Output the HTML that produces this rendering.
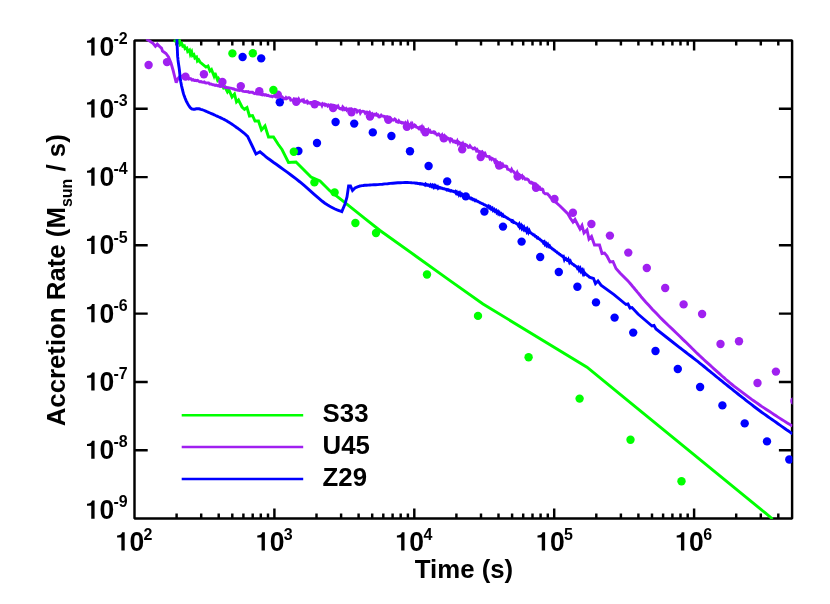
<!DOCTYPE html>
<html><head><meta charset="utf-8"><title>Accretion Rate</title>
<style>
html,body{margin:0;padding:0;background:#fff;}
body{width:830px;height:604px;overflow:hidden;}
svg{display:block;}
text{font-family:"Liberation Sans",sans-serif;font-weight:bold;fill:#000;}
</style></head><body>
<svg style="will-change:transform" width="830" height="604" viewBox="0 0 830 604">
<rect width="830" height="604" fill="#fff"/>
<defs><clipPath id="pc"><rect x="134.5" y="39.2" width="657.9" height="479.9"/></clipPath></defs>
<g stroke="#000" stroke-width="2.45" fill="none" stroke-linecap="butt" stroke-linejoin="bevel">
<rect x="134.5" y="40.5" width="657.6" height="478.0"/>
<path d="M176.6 518.5 L176.6 513.5 M176.6 40.5 L176.6 45.5 M201.2 518.5 L201.2 513.5 M201.2 40.5 L201.2 45.5 M218.7 518.5 L218.7 513.5 M218.7 40.5 L218.7 45.5 M232.3 518.5 L232.3 513.5 M232.3 40.5 L232.3 45.5 M243.4 518.5 L243.4 513.5 M243.4 40.5 L243.4 45.5 M252.7 518.5 L252.7 513.5 M252.7 40.5 L252.7 45.5 M260.8 518.5 L260.8 513.5 M260.8 40.5 L260.8 45.5 M268.0 518.5 L268.0 513.5 M268.0 40.5 L268.0 45.5 M274.4 518.5 L274.4 508.6 M274.4 40.5 L274.4 50.4 M316.5 518.5 L316.5 513.5 M316.5 40.5 L316.5 45.5 M341.1 518.5 L341.1 513.5 M341.1 40.5 L341.1 45.5 M358.6 518.5 L358.6 513.5 M358.6 40.5 L358.6 45.5 M372.2 518.5 L372.2 513.5 M372.2 40.5 L372.2 45.5 M383.3 518.5 L383.3 513.5 M383.3 40.5 L383.3 45.5 M392.6 518.5 L392.6 513.5 M392.6 40.5 L392.6 45.5 M400.7 518.5 L400.7 513.5 M400.7 40.5 L400.7 45.5 M407.9 518.5 L407.9 513.5 M407.9 40.5 L407.9 45.5 M414.3 518.5 L414.3 508.6 M414.3 40.5 L414.3 50.4 M456.4 518.5 L456.4 513.5 M456.4 40.5 L456.4 45.5 M481.0 518.5 L481.0 513.5 M481.0 40.5 L481.0 45.5 M498.5 518.5 L498.5 513.5 M498.5 40.5 L498.5 45.5 M512.1 518.5 L512.1 513.5 M512.1 40.5 L512.1 45.5 M523.2 518.5 L523.2 513.5 M523.2 40.5 L523.2 45.5 M532.5 518.5 L532.5 513.5 M532.5 40.5 L532.5 45.5 M540.6 518.5 L540.6 513.5 M540.6 40.5 L540.6 45.5 M547.8 518.5 L547.8 513.5 M547.8 40.5 L547.8 45.5 M554.2 518.5 L554.2 508.6 M554.2 40.5 L554.2 50.4 M596.3 518.5 L596.3 513.5 M596.3 40.5 L596.3 45.5 M620.9 518.5 L620.9 513.5 M620.9 40.5 L620.9 45.5 M638.4 518.5 L638.4 513.5 M638.4 40.5 L638.4 45.5 M652.0 518.5 L652.0 513.5 M652.0 40.5 L652.0 45.5 M663.1 518.5 L663.1 513.5 M663.1 40.5 L663.1 45.5 M672.4 518.5 L672.4 513.5 M672.4 40.5 L672.4 45.5 M680.5 518.5 L680.5 513.5 M680.5 40.5 L680.5 45.5 M687.7 518.5 L687.7 513.5 M687.7 40.5 L687.7 45.5 M694.1 518.5 L694.1 508.6 M694.1 40.5 L694.1 50.4 M736.2 518.5 L736.2 513.5 M736.2 40.5 L736.2 45.5 M760.8 518.5 L760.8 513.5 M760.8 40.5 L760.8 45.5 M778.3 518.5 L778.3 513.5 M778.3 40.5 L778.3 45.5 M134.5 450.2 L147.7 450.2 M792.1 450.2 L778.9 450.2 M134.5 381.9 L147.7 381.9 M792.1 381.9 L778.9 381.9 M134.5 313.6 L147.7 313.6 M792.1 313.6 L778.9 313.6 M134.5 245.3 L147.7 245.3 M792.1 245.3 L778.9 245.3 M134.5 177.1 L147.7 177.1 M792.1 177.1 L778.9 177.1 M134.5 108.8 L147.7 108.8 M792.1 108.8 L778.9 108.8"/>
</g>
<g clip-path="url(#pc)" fill="none" stroke-width="2.9" stroke-linejoin="miter" stroke-miterlimit="3" stroke-linecap="butt">
<path d="M174.2 42.2 L176.6 38.8 L177.6 40.6 L178.2 42.4 L179.6 40.8 L180.3 44.6 L181.8 43.5 L182.8 46.3 L184.3 45.8 L185.1 48.8 L186.8 48.0 L187.7 51.4 L189.5 50.0 L190.4 54.3 L191.7 51.9 L192.5 55.6 L193.9 54.6 L194.9 58.0 L196.5 57.0 L197.4 60.9 L198.7 59.7 L200.0 62.0 L206.0 67.0 L208.0 66.0 L210.0 71.0 L211.5 69.5 L214.0 76.0 L215.0 73.0 L217.5 80.0 L218.5 78.5 L223.5 88.0 L225.0 87.0 L227.5 92.0 L229.0 90.0 L232.0 97.0 L234.5 94.0 L236.5 102.0 L238.5 100.0 L242.0 107.0 L244.5 109.3 L247.0 107.5 L249.5 116.0 L252.5 115.5 L255.0 121.0 L258.5 121.0 L261.5 130.0 L265.0 126.0 L268.5 137.0 L273.5 137.0 L278.0 144.0 L282.0 149.5 L288.5 162.5 L296.0 162.0 L311.0 177.0 L320.0 181.0 L330.0 191.0 L345.0 202.6 L355.0 210.6 L365.0 218.6 L380.0 230.5 L416.0 256.2 L450.0 280.6 L483.0 304.0 L587.0 367.2 L626.0 399.2 L765.6 513.2 L772.6 519.0" stroke="#00ff00"/>
<path d="M146.3 39.0 L150.0 41.2 L153.0 43.3 L155.4 46.3 L157.3 44.2 L160.0 46.8 L161.5 48.0 L162.5 51.0 L166.0 53.5 L168.5 57.0 L171.0 63.0 L173.0 70.0 L175.5 80.0 L176.2 82.6 L178.0 78.5 L180.0 76.2 L181.1 76.2 L182.2 76.8 L183.3 76.9 L184.4 77.5 L185.5 77.8 L186.6 77.5 L187.7 77.7 L188.8 79.0 L189.9 78.6 L191.0 78.9 L192.1 80.1 L193.2 79.7 L194.3 80.4 L195.4 80.3 L196.5 80.7 L197.6 80.4 L198.7 81.2 L199.8 81.7 L200.9 81.6 L202.0 82.1 L203.1 82.3 L204.2 81.9 L205.3 82.9 L206.4 83.0 L207.5 82.9 L208.6 82.9 L209.7 84.0 L210.8 83.9 L211.9 84.4 L213.0 84.8 L214.1 84.9 L215.2 85.4 L216.3 85.1 L217.4 85.8 L218.5 85.6 L219.6 86.4 L220.7 86.6 L221.8 86.0 L222.9 86.3 L224.0 86.6 L225.1 87.6 L226.2 87.3 L227.3 87.7 L228.4 87.6 L229.5 88.0 L230.6 88.1 L231.7 88.3 L232.8 88.8 L233.9 89.0 L235.0 89.6 L236.1 89.6 L237.2 90.0 L238.3 90.2 L239.4 90.6 L240.5 90.4 L241.6 90.1 L242.7 91.1 L243.8 91.4 L244.9 91.6 L246.0 91.4 L247.1 91.8 L248.2 91.5 L249.3 92.4 L250.4 92.3 L251.5 92.2 L252.6 92.2 L253.7 93.3 L254.8 93.7 L255.9 92.9 L257.0 93.9 L258.1 93.7 L259.2 93.7 L260.3 94.0 L261.4 94.7 L262.5 95.0 L263.6 94.3 L264.7 95.1 L265.8 94.6 L266.9 95.5 L268.0 95.3 L269.1 96.0 L270.2 96.3 L271.3 96.0 L272.4 96.7 L273.5 96.1 L274.6 96.0 L275.7 96.8 L276.8 96.3 L278.0 97.0 L278.8 96.5 L279.6 96.3 L280.4 97.1 L281.2 96.6 L282.0 96.6 L282.8 97.5 L283.6 98.9 L284.4 98.8 L285.2 98.8 L286.0 97.6 L286.8 98.5 L287.6 98.0 L288.4 97.8 L289.2 97.8 L290.0 98.2 L290.8 100.1 L291.6 100.0 L292.4 100.1 L293.2 100.2 L294.0 98.8 L294.8 99.2 L295.6 100.1 L296.4 100.5 L297.2 101.0 L298.0 101.2 L298.8 99.3 L299.6 100.8 L300.4 101.1 L301.2 100.8 L302.0 100.1 L302.8 101.0 L303.6 100.2 L304.4 102.4 L305.2 102.4 L306.0 101.7 L306.8 101.2 L307.6 102.9 L308.4 102.2 L309.2 103.1 L310.0 103.2 L310.8 102.5 L311.6 102.4 L312.4 103.0 L313.2 102.7 L314.0 102.2 L314.8 102.7 L315.6 104.1 L316.4 102.3 L317.2 102.4 L318.0 104.0 L318.8 103.3 L319.6 104.1 L320.4 104.0 L321.2 103.9 L322.0 105.6 L322.8 103.8 L323.6 104.4 L324.4 104.1 L325.2 105.3 L326.0 104.5 L326.8 104.9 L327.6 106.0 L328.4 105.1 L329.2 105.8 L330.0 106.8 L330.8 104.9 L331.6 105.0 L332.4 105.5 L333.2 107.0 L334.0 106.8 L334.8 106.0 L335.6 106.4 L336.4 106.2 L337.2 107.0 L338.0 106.1 L338.8 107.9 L339.6 108.6 L340.4 108.9 L341.2 108.5 L342.0 109.2 L342.8 107.0 L343.6 107.8 L344.4 109.7 L345.2 109.4 L346.0 108.6 L346.8 110.1 L347.6 109.4 L348.4 110.1 L349.2 108.9 L350.0 108.8 L350.8 109.6 L351.6 109.0 L352.4 109.8 L353.2 111.4 L354.0 110.0 L354.8 109.4 L355.6 109.6 L356.4 110.1 L357.2 111.8 L358.0 110.9 L358.8 110.9 L359.6 110.6 L360.4 113.0 L361.2 111.8 L362.0 111.4 L362.8 111.2 L363.6 111.3 L364.4 111.8 L365.2 113.2 L366.0 112.1 L366.8 112.0 L367.6 113.3 L368.4 112.8 L369.2 114.9 L370.0 112.9 L370.8 114.1 L371.6 114.9 L372.4 114.1 L373.2 115.8 L374.0 114.7 L374.8 114.3 L375.6 114.9 L376.4 114.1 L377.2 115.3 L378.0 115.0 L378.8 116.8 L379.6 116.9 L380.4 116.2 L381.2 115.2 L382.0 116.0 L382.8 116.1 L383.6 116.2 L384.4 116.5 L385.2 118.3 L386.0 116.6 L386.8 116.6 L387.6 119.0 L388.4 118.3 L389.2 119.6 L390.0 118.4 L390.8 119.8 L391.6 119.5 L392.4 120.0 L393.2 120.2 L394.0 119.8 L394.8 119.0 L395.6 119.6 L396.4 121.5 L397.2 121.8 L398.0 122.1 L398.8 120.8 L399.6 121.9 L400.4 122.5 L401.2 122.3 L402.0 123.0 L402.8 122.6 L403.6 123.1 L404.4 123.5 L405.2 122.7 L406.0 124.6 L406.8 124.9 L407.6 123.0 L408.4 125.5 L409.2 125.7 L410.0 125.2 L410.8 123.9 L411.6 126.3 L412.4 124.6 L413.2 127.0 L414.0 126.5 L414.8 125.2 L415.6 125.8 L416.4 127.2 L417.2 127.3 L418.0 128.0 L418.8 128.7 L419.6 127.2 L420.4 126.9 L421.2 129.4 L422.0 127.4 L422.8 129.8 L423.6 128.2 L424.4 130.2 L425.2 130.4 L426.0 130.9 L426.8 130.3 L427.6 131.4 L428.4 129.9 L429.2 131.4 L430.0 130.8 L430.8 132.5 L431.6 132.6 L432.4 132.1 L433.2 132.6 L434.0 131.7 L434.8 132.1 L435.6 133.8 L436.4 133.9 L437.2 135.1 L438.0 134.8 L438.8 134.0 L439.6 134.9 L440.4 136.2 L441.2 136.0 L442.0 135.0 L442.8 137.4 L443.6 137.7 L444.4 136.2 L445.2 137.7 L446.0 137.6 L446.8 139.0 L447.6 138.1 L448.4 138.3 L449.2 139.2 L450.0 140.8 L450.8 138.9 L451.6 139.2 L452.4 140.8 L453.2 141.7 L454.0 141.1 L454.8 141.2 L455.6 142.6 L456.4 142.7 L457.2 141.2 L458.0 143.5 L458.8 142.1 L459.6 142.7 L460.4 144.3 L461.2 143.6 L462.0 144.8 L462.8 143.5 L463.6 145.6 L464.4 144.1 L465.2 144.3 L466.0 145.5 L466.8 145.4 L467.6 146.2 L468.4 147.4 L469.2 147.2 L470.0 145.8 L470.8 146.9 L471.6 147.8 L472.4 148.0 L473.2 148.9 L474.0 148.7 L474.8 148.0 L475.6 148.8 L476.4 150.6 L477.2 149.7 L478.0 151.1 L478.8 152.0 L479.6 151.4 L480.4 151.9 L481.2 152.1 L482.0 151.7 L482.8 153.5 L483.6 153.0 L484.4 154.8 L485.2 153.8 L486.0 155.9 L486.8 156.3 L487.6 156.4 L488.4 156.6 L489.2 156.5 L490.0 158.7 L490.8 158.1 L491.6 159.4 L492.4 158.5 L493.2 158.9 L494.0 159.5 L494.8 161.7 L495.6 160.6 L496.4 162.8 L497.2 162.0 L498.0 163.0 L498.8 162.9 L499.6 164.1 L500.4 163.2 L501.2 164.4 L502.0 166.2 L502.8 164.7 L503.6 166.4 L504.4 166.0 L505.2 166.4 L506.0 166.1 L506.8 166.5 L507.6 169.3 L508.4 169.4 L509.2 169.8 L510.0 170.3 L510.8 171.1 L511.6 169.5 L512.4 171.0 L513.2 171.2 L514.0 171.9 L514.8 173.2 L515.6 173.2 L516.4 174.2 L517.2 172.5 L518.0 174.3 L518.8 174.8 L519.6 175.4 L520.4 175.6 L521.2 176.6 L522.0 175.8 L522.8 177.9 L523.6 177.1 L524.4 178.1 L525.2 179.4 L526.0 179.4 L526.8 178.9 L527.6 179.3 L528.4 180.0 L529.2 181.3 L530.0 182.7 L530.8 183.0 L531.6 182.3 L532.4 182.8 L533.2 184.4 L534.0 183.6 L534.8 184.4 L535.6 183.9 L536.4 184.9 L537.2 186.3 L538.0 187.2 L538.8 187.5 L539.6 187.4 L540.4 189.5 L541.2 189.4 L542.0 188.9 L542.8 189.4 L543.6 192.4 L544.4 193.2 L545.2 193.7 L546.0 193.7 L546.8 193.7 L547.6 193.8 L548.4 195.0 L549.2 195.6 L550.0 197.0 L560.0 206.0 L568.0 214.0 L570.5 218.5 L573.0 222.0 L575.0 219.5 L580.0 229.0 L582.0 225.5 L584.0 233.0 L587.0 230.0 L589.0 239.0 L591.5 236.5 L594.5 245.0 L599.5 245.0 L602.0 253.5 L604.5 253.0 L607.0 256.0 L610.0 262.0 L613.0 261.5 L616.0 268.5 L620.0 273.0 L628.0 281.0 L628.8 281.9 L630.0 283.3 L631.3 284.8 L632.7 286.5 L634.0 288.0 L635.2 289.5 L636.5 291.0 L637.8 292.6 L639.0 294.0 L640.0 295.3 L640.7 296.1 L641.0 296.6 L641.3 297.0 L642.0 297.8 L643.5 299.5 L645.9 302.2 L649.0 305.5 L652.5 309.4 L656.3 313.3 L660.0 317.2 L663.9 321.1 L668.2 325.3 L672.6 329.4 L676.6 333.2 L680.0 336.5 L682.6 339.1 L684.7 341.1 L686.5 342.8 L688.2 344.5 L690.0 346.3 L692.0 348.3 L694.0 350.2 L696.0 352.2 L698.0 354.1 L700.0 356.0 L702.0 357.9 L704.0 359.7 L706.0 361.6 L708.0 363.4 L710.0 365.2 L712.0 367.0 L714.0 368.8 L716.0 370.6 L718.0 372.4 L720.0 374.2 L722.0 376.0 L724.0 377.7 L726.0 379.5 L728.0 381.2 L730.0 382.9 L732.0 384.5 L734.0 386.1 L736.0 387.6 L738.0 389.1 L740.0 390.6 L742.0 392.1 L744.0 393.6 L746.0 395.1 L748.0 396.6 L750.0 398.1 L752.0 399.6 L754.0 401.0 L756.0 402.4 L758.0 403.8 L760.0 405.2 L762.0 406.6 L764.0 407.9 L766.0 409.2 L768.0 410.5 L770.0 411.8 L772.0 413.1 L774.0 414.5 L776.0 415.8 L778.0 417.1 L780.0 418.4 L782.1 419.7 L784.4 421.1 L786.5 422.5 L788.5 423.7 L790.0 424.6 L791.0 425.2 L791.6 425.6 L792.0 425.8 L792.2 425.9 L792.4 426.0" stroke="#a020f0"/>
<path d="M176.9 39.0 L177.6 56.0 L177.7 57.0 L177.9 58.3 L178.0 59.9 L178.2 61.5 L178.4 63.0 L178.6 64.4 L178.8 65.7 L179.0 67.0 L179.2 68.4 L179.4 70.0 L179.6 71.8 L179.8 73.8 L180.0 75.9 L180.2 78.0 L180.5 80.0 L180.8 82.0 L181.2 84.1 L181.6 86.1 L182.1 88.1 L182.5 90.0 L183.0 91.8 L183.4 93.4 L183.9 95.0 L184.5 96.5 L185.0 98.0 L185.6 99.4 L186.2 100.8 L186.8 102.0 L187.4 103.2 L188.0 104.3 L188.6 105.3 L189.2 106.2 L189.8 107.0 L190.4 107.7 L191.0 108.3 L191.6 108.7 L192.2 109.0 L192.7 109.1 L193.3 109.2 L194.0 109.2 L194.7 109.2 L195.5 109.0 L196.3 108.8 L197.1 108.7 L198.0 108.7 L198.9 108.8 L199.8 109.0 L200.8 109.3 L201.9 109.6 L203.0 110.0 L204.3 110.5 L205.7 111.1 L207.1 111.7 L208.6 112.4 L210.0 113.0 L211.4 113.6 L212.8 114.2 L214.2 114.8 L215.6 115.5 L217.0 116.1 L218.4 116.8 L219.9 117.4 L221.3 118.1 L222.7 118.8 L224.0 119.4 L225.1 120.0 L226.1 120.6 L227.1 121.1 L228.0 121.7 L229.0 122.3 L230.0 122.9 L231.0 123.6 L232.0 124.2 L233.0 124.9 L234.0 125.6 L235.1 126.4 L236.2 127.2 L237.4 128.0 L238.3 128.7 L239.0 129.2 L244.0 133.0 L247.6 136.4 L252.0 145.5 L256.0 154.0 L260.0 151.8 L264.0 155.0 L266.0 157.0 L267.8 158.3 L270.3 160.0 L273.3 162.2 L276.6 164.5 L280.0 167.0 L283.6 169.6 L287.5 172.4 L291.6 175.5 L295.8 178.7 L300.0 182.0 L304.4 185.7 L309.2 189.9 L313.9 194.1 L318.3 197.9 L322.0 201.0 L324.9 203.2 L327.3 204.8 L329.3 206.0 L331.1 207.0 L333.0 208.0 L335.0 209.0 L337.1 209.9 L339.0 210.6 L340.6 211.2 L341.8 211.6 L345.0 204.0 L347.0 197.0 L348.6 186.0 L350.5 186.0 L352.5 190.5 L355.0 188.0 L358.0 186.6 L358.5 186.5 L359.1 186.3 L359.9 186.0 L360.9 185.8 L362.0 185.6 L363.3 185.5 L364.8 185.3 L366.5 185.2 L368.2 185.1 L370.0 185.0 L371.8 184.9 L373.7 184.8 L375.7 184.7 L377.8 184.6 L380.0 184.4 L382.4 184.2 L384.9 183.9 L387.6 183.7 L390.2 183.4 L392.8 183.2 L395.3 183.0 L397.8 182.8 L400.3 182.7 L402.7 182.6 L405.0 182.5 L407.3 182.5 L409.6 182.6 L411.8 182.8 L413.7 182.9 L415.0 183.0 L415.9 183.3 L416.8 183.1 L417.8 183.6 L418.8 183.5 L419.6 183.9 L420.5 183.6 L421.2 184.1 L422.0 183.9 L422.9 184.3 L423.6 184.2 L424.6 184.9 L425.4 184.1 L426.1 185.1 L426.8 184.6 L427.8 185.3 L428.5 185.0 L429.5 186.0 L430.5 184.9 L431.4 186.3 L432.4 185.2 L433.4 187.1 L434.2 185.7 L435.0 187.0 L435.7 186.0 L436.5 187.3 L437.5 186.5 L438.2 188.2 L439.1 187.4 L439.9 187.9 L440.6 187.7 L441.3 188.3 L442.3 188.2 L443.2 188.7 L444.1 188.7 L444.8 189.1 L445.8 189.1 L446.7 190.0 L447.7 189.5 L448.5 190.4 L449.5 190.1 L450.4 191.1 L451.4 190.7 L452.4 191.3 L453.2 191.3 L454.2 191.9 L455.2 191.3 L456.0 193.0 L456.7 192.2 L457.4 193.8 L458.5 192.8 L459.1 194.7 L460.0 193.3 L460.8 195.1 L461.7 194.0 L462.6 195.5 L463.5 195.3 L464.4 196.0 L465.1 195.9 L466.1 196.6 L467.1 196.8 L467.9 197.3 L468.9 197.5 L469.7 198.2 L470.7 197.9 L471.5 199.1 L472.4 198.8 L473.2 199.8 L473.9 199.5 L475.0 200.7 L475.8 200.2 L476.6 201.0 L477.4 201.1 L478.4 201.8 L479.3 202.0 L480.3 202.8 L481.2 203.0 L482.1 203.7 L483.0 203.8 L483.9 204.6 L484.9 204.8 L485.7 205.5 L486.6 205.7 L487.5 206.9 L488.5 206.1 L489.4 207.9 L490.3 207.1 L491.3 209.1 L492.3 208.2 L493.2 210.5 L494.2 209.5 L495.0 211.2 L496.0 210.4 L496.8 212.6 L497.8 211.6 L498.5 213.6 L499.4 212.6 L500.2 214.5 L501.2 213.7 L502.1 215.4 L502.8 214.8 L503.7 216.4 L504.6 216.3 L505.3 217.0 L506.1 217.2 L506.8 217.9 L507.5 218.1 L508.2 218.8 L509.0 219.0 L509.9 219.8 L510.9 220.1 L511.7 221.3 L512.6 220.8 L513.5 222.4 L514.2 222.1 L514.9 222.8 L515.7 223.0 L516.7 223.9 L517.5 224.0 L518.4 225.6 L519.2 224.3 L520.0 227.0 L521.0 225.5 L521.8 228.1 L522.5 226.8 L523.4 229.0 L524.1 227.5 L525.1 229.9 L525.9 229.0 L526.7 231.3 L527.5 229.5 L528.5 232.3 L529.3 230.7 L530.1 232.6 L530.9 232.8 L531.8 233.8 L532.6 234.1 L533.5 235.0 L534.3 235.0 L535.2 236.3 L536.1 236.4 L537.1 237.8 L537.9 237.6 L538.6 238.7 L539.4 238.9 L540.2 239.8 L541.1 240.1 L541.8 241.1 L542.6 241.3 L543.4 242.8 L544.3 241.9 L545.1 244.3 L545.9 243.4 L546.7 245.4 L547.7 244.2 L548.6 246.5 L549.5 245.8 L550.4 247.5 L551.3 247.8 L552.3 248.9 L553.1 249.1 L553.8 250.0 L554.8 250.5 L555.8 251.5 L556.6 251.8 L557.5 252.9 L558.3 253.0 L559.1 254.0 L559.9 254.3 L560.8 255.3 L561.5 255.5 L562.5 256.5 L563.4 256.3 L564.3 259.3 L565.3 257.1 L566.0 260.5 L566.8 258.3 L567.8 261.7 L568.5 259.9 L569.5 262.5 L570.4 261.2 L571.1 263.0 L571.8 263.2 L572.6 264.1 L573.3 264.3 L574.2 265.4 L575.0 265.6 L575.8 266.5 L576.6 266.7 L577.4 268.3 L578.3 267.4 L579.2 270.1 L580.2 268.5 L581.1 271.3 L582.0 270.1 L582.9 273.0 L583.6 271.5 L584.4 274.4 L585.2 273.5 L586.1 274.5 L587.0 275.0 L587.7 275.8 L588.5 276.1 L589.3 277.1 L590.0 277.5 L593.5 278.5 L595.5 283.6 L598.0 281.0 L601.0 285.2 L614.0 294.6 L626.0 304.5 L628.0 304.0 L630.0 308.0 L632.0 307.5 L638.0 314.0 L652.0 326.0 L654.0 325.5 L656.0 329.0 L670.0 340.0 L680.0 347.8 L681.4 348.8 L683.3 350.3 L685.5 352.0 L687.8 353.8 L690.0 355.5 L692.0 357.0 L694.0 358.6 L696.0 360.2 L698.0 361.7 L700.0 363.3 L702.0 364.9 L704.0 366.5 L706.0 368.1 L708.0 369.8 L710.0 371.4 L712.0 373.0 L714.0 374.7 L716.0 376.3 L718.0 378.0 L720.0 379.6 L722.0 381.2 L724.0 382.8 L726.0 384.4 L728.0 386.0 L730.0 387.6 L732.0 389.2 L734.0 390.8 L736.0 392.4 L738.0 394.0 L740.0 395.6 L742.0 397.2 L744.0 398.7 L746.0 400.3 L748.0 401.9 L750.0 403.4 L752.0 404.9 L754.0 406.5 L756.0 408.0 L758.0 409.5 L760.0 411.0 L762.0 412.5 L764.0 413.9 L766.0 415.3 L768.0 416.7 L770.0 418.1 L772.0 419.5 L774.0 420.9 L776.0 422.3 L778.0 423.7 L780.0 425.1 L782.1 426.6 L784.4 428.2 L786.5 429.7 L788.5 431.0 L790.0 432.1 L791.0 432.8 L791.6 433.2 L792.0 433.5 L792.2 433.7 L792.4 433.8" stroke="#0000ff"/>
<g fill="#0000ff" stroke="none">
<circle cx="242.6" cy="57.0" r="4.2"/>
<circle cx="261.2" cy="58.4" r="4.2"/>
<circle cx="279.8" cy="102.2" r="4.2"/>
<circle cx="298.4" cy="151.0" r="4.2"/>
<circle cx="317.0" cy="143.0" r="4.2"/>
<circle cx="335.6" cy="122.0" r="4.2"/>
<circle cx="354.2" cy="123.6" r="4.2"/>
<circle cx="372.8" cy="132.4" r="4.2"/>
<circle cx="391.4" cy="136.0" r="4.2"/>
<circle cx="410.0" cy="151.2" r="4.2"/>
<circle cx="428.6" cy="166.0" r="4.2"/>
<circle cx="447.2" cy="181.4" r="4.2"/>
<circle cx="465.8" cy="196.4" r="4.2"/>
<circle cx="484.4" cy="211.6" r="4.2"/>
<circle cx="503.0" cy="226.6" r="4.2"/>
<circle cx="521.6" cy="241.6" r="4.2"/>
<circle cx="540.2" cy="257.0" r="4.2"/>
<circle cx="558.8" cy="272.0" r="4.2"/>
<circle cx="577.4" cy="286.8" r="4.2"/>
<circle cx="596.0" cy="302.4" r="4.2"/>
<circle cx="614.6" cy="317.6" r="4.2"/>
<circle cx="633.2" cy="332.6" r="4.2"/>
<circle cx="655.5" cy="351.0" r="4.2"/>
<circle cx="677.8" cy="369.0" r="4.2"/>
<circle cx="700.1" cy="387.0" r="4.2"/>
<circle cx="722.4" cy="405.4" r="4.2"/>
<circle cx="744.7" cy="423.4" r="4.2"/>
<circle cx="767.0" cy="441.4" r="4.2"/>
<circle cx="789.3" cy="459.5" r="4.2"/>
</g>
<g fill="#a020f0" stroke="none">
<circle cx="148.6" cy="65.0" r="4.2"/>
<circle cx="167.0" cy="62.1" r="4.2"/>
<circle cx="185.5" cy="76.6" r="4.2"/>
<circle cx="203.9" cy="74.2" r="4.2"/>
<circle cx="222.4" cy="82.0" r="4.2"/>
<circle cx="240.8" cy="86.1" r="4.2"/>
<circle cx="259.3" cy="91.3" r="4.2"/>
<circle cx="277.8" cy="94.6" r="4.2"/>
<circle cx="296.2" cy="101.8" r="4.2"/>
<circle cx="314.6" cy="104.2" r="4.2"/>
<circle cx="333.1" cy="108.0" r="4.2"/>
<circle cx="351.5" cy="112.3" r="4.2"/>
<circle cx="370.0" cy="116.5" r="4.2"/>
<circle cx="388.4" cy="119.8" r="4.2"/>
<circle cx="406.9" cy="126.8" r="4.2"/>
<circle cx="425.4" cy="132.3" r="4.2"/>
<circle cx="443.8" cy="138.4" r="4.2"/>
<circle cx="462.2" cy="149.4" r="4.2"/>
<circle cx="480.7" cy="157.0" r="4.2"/>
<circle cx="499.1" cy="165.6" r="4.2"/>
<circle cx="517.6" cy="176.6" r="4.2"/>
<circle cx="536.0" cy="187.8" r="4.2"/>
<circle cx="554.5" cy="199.0" r="4.2"/>
<circle cx="572.9" cy="212.8" r="4.2"/>
<circle cx="591.4" cy="224.0" r="4.2"/>
<circle cx="609.9" cy="235.6" r="4.2"/>
<circle cx="628.3" cy="252.6" r="4.2"/>
<circle cx="646.8" cy="268.0" r="4.2"/>
<circle cx="665.2" cy="288.0" r="4.2"/>
<circle cx="683.6" cy="304.4" r="4.2"/>
<circle cx="702.1" cy="314.0" r="4.2"/>
<circle cx="720.5" cy="344.0" r="4.2"/>
<circle cx="739.0" cy="341.2" r="4.2"/>
<circle cx="757.5" cy="383.0" r="4.2"/>
<circle cx="775.9" cy="371.6" r="4.2"/>
<circle cx="794.4" cy="401.0" r="4.2"/>
</g>
<g fill="#00ff00" stroke="none">
<circle cx="232.4" cy="53.4" r="4.2"/>
<circle cx="252.8" cy="53.2" r="4.2"/>
<circle cx="273.4" cy="90.0" r="4.2"/>
<circle cx="293.8" cy="151.8" r="4.2"/>
<circle cx="314.4" cy="182.4" r="4.2"/>
<circle cx="334.6" cy="192.4" r="4.2"/>
<circle cx="355.4" cy="223.0" r="4.2"/>
<circle cx="376.0" cy="233.0" r="4.2"/>
<circle cx="427.0" cy="274.5" r="4.2"/>
<circle cx="478.0" cy="315.9" r="4.2"/>
<circle cx="528.6" cy="357.2" r="4.2"/>
<circle cx="579.6" cy="398.6" r="4.2"/>
<circle cx="630.5" cy="439.8" r="4.2"/>
<circle cx="681.5" cy="481.2" r="4.2"/>
</g>
</g>
<g stroke-width="2.4" fill="none">
<path d="M181.7 415.2 H303.2" stroke="#00ff00"/>
<path d="M181.7 447.0 H303.2" stroke="#a020f0"/>
<path d="M181.7 479.0 H303.2" stroke="#0000ff"/>
</g>
<text transform="translate(322.60 422.00) scale(1.000 1.030)" font-size="25.8" text-anchor="start">S33</text>
<text transform="translate(322.60 454.00) scale(1.000 1.030)" font-size="25.8" text-anchor="start">U45</text>
<text transform="translate(322.60 486.00) scale(1.000 1.030)" font-size="25.8" text-anchor="start">Z29</text>
<path d="M4.25 0V-12.95H0V-14.95C2.4 -15.05 4.5 -15.95 5.05 -18.2H7.6V0Z" transform="translate(87.00 518.80)" fill="#000"/>
<text transform="translate(99.40 519.15) scale(1.040 1.100)" font-size="25.5" text-anchor="start">0</text>
<text transform="translate(113.50 507.40) scale(1.000 1.040)" font-size="16.0" text-anchor="start">-9</text>
<path d="M4.25 0V-12.95H0V-14.95C2.4 -15.05 4.5 -15.95 5.05 -18.2H7.6V0Z" transform="translate(87.00 458.87)" fill="#000"/>
<text transform="translate(99.40 459.22) scale(1.040 1.100)" font-size="25.5" text-anchor="start">0</text>
<text transform="translate(113.50 447.47) scale(1.000 1.040)" font-size="16.0" text-anchor="start">-8</text>
<path d="M4.25 0V-12.95H0V-14.95C2.4 -15.05 4.5 -15.95 5.05 -18.2H7.6V0Z" transform="translate(87.00 390.59)" fill="#000"/>
<text transform="translate(99.40 390.94) scale(1.040 1.100)" font-size="25.5" text-anchor="start">0</text>
<text transform="translate(113.50 379.19) scale(1.000 1.040)" font-size="16.0" text-anchor="start">-7</text>
<path d="M4.25 0V-12.95H0V-14.95C2.4 -15.05 4.5 -15.95 5.05 -18.2H7.6V0Z" transform="translate(87.00 322.31)" fill="#000"/>
<text transform="translate(99.40 322.66) scale(1.040 1.100)" font-size="25.5" text-anchor="start">0</text>
<text transform="translate(113.50 310.91) scale(1.000 1.040)" font-size="16.0" text-anchor="start">-6</text>
<path d="M4.25 0V-12.95H0V-14.95C2.4 -15.05 4.5 -15.95 5.05 -18.2H7.6V0Z" transform="translate(87.00 254.04)" fill="#000"/>
<text transform="translate(99.40 254.39) scale(1.040 1.100)" font-size="25.5" text-anchor="start">0</text>
<text transform="translate(113.50 242.64) scale(1.000 1.040)" font-size="16.0" text-anchor="start">-5</text>
<path d="M4.25 0V-12.95H0V-14.95C2.4 -15.05 4.5 -15.95 5.05 -18.2H7.6V0Z" transform="translate(87.00 185.76)" fill="#000"/>
<text transform="translate(99.40 186.11) scale(1.040 1.100)" font-size="25.5" text-anchor="start">0</text>
<text transform="translate(113.50 174.36) scale(1.000 1.040)" font-size="16.0" text-anchor="start">-4</text>
<path d="M4.25 0V-12.95H0V-14.95C2.4 -15.05 4.5 -15.95 5.05 -18.2H7.6V0Z" transform="translate(87.00 117.48)" fill="#000"/>
<text transform="translate(99.40 117.83) scale(1.040 1.100)" font-size="25.5" text-anchor="start">0</text>
<text transform="translate(113.50 106.08) scale(1.000 1.040)" font-size="16.0" text-anchor="start">-3</text>
<path d="M4.25 0V-12.95H0V-14.95C2.4 -15.05 4.5 -15.95 5.05 -18.2H7.6V0Z" transform="translate(87.00 55.60)" fill="#000"/>
<text transform="translate(99.40 55.95) scale(1.040 1.100)" font-size="25.5" text-anchor="start">0</text>
<text transform="translate(113.50 44.20) scale(1.000 1.040)" font-size="16.0" text-anchor="start">-2</text>
<path d="M4.25 0V-12.95H0V-14.95C2.4 -15.05 4.5 -15.95 5.05 -18.2H7.6V0Z" transform="translate(117.10 550.40)" fill="#000"/>
<text transform="translate(129.50 550.75) scale(1.040 1.100)" font-size="25.5" text-anchor="start">0</text>
<text transform="translate(143.60 539.70) scale(1.000 1.040)" font-size="16.0" text-anchor="start">2</text>
<path d="M4.25 0V-12.95H0V-14.95C2.4 -15.05 4.5 -15.95 5.05 -18.2H7.6V0Z" transform="translate(257.30 550.40)" fill="#000"/>
<text transform="translate(269.70 550.75) scale(1.040 1.100)" font-size="25.5" text-anchor="start">0</text>
<text transform="translate(283.80 539.70) scale(1.000 1.040)" font-size="16.0" text-anchor="start">3</text>
<path d="M4.25 0V-12.95H0V-14.95C2.4 -15.05 4.5 -15.95 5.05 -18.2H7.6V0Z" transform="translate(396.90 550.40)" fill="#000"/>
<text transform="translate(409.30 550.75) scale(1.040 1.100)" font-size="25.5" text-anchor="start">0</text>
<text transform="translate(423.40 539.70) scale(1.000 1.040)" font-size="16.0" text-anchor="start">4</text>
<path d="M4.25 0V-12.95H0V-14.95C2.4 -15.05 4.5 -15.95 5.05 -18.2H7.6V0Z" transform="translate(537.50 550.40)" fill="#000"/>
<text transform="translate(549.90 550.75) scale(1.040 1.100)" font-size="25.5" text-anchor="start">0</text>
<text transform="translate(564.00 539.70) scale(1.000 1.040)" font-size="16.0" text-anchor="start">5</text>
<path d="M4.25 0V-12.95H0V-14.95C2.4 -15.05 4.5 -15.95 5.05 -18.2H7.6V0Z" transform="translate(676.70 550.40)" fill="#000"/>
<text transform="translate(689.10 550.75) scale(1.040 1.100)" font-size="25.5" text-anchor="start">0</text>
<text transform="translate(703.20 539.70) scale(1.000 1.040)" font-size="16.0" text-anchor="start">6</text>
<text transform="translate(464.00 578.00) scale(1.000 1.030)" font-size="25.8" text-anchor="middle">Time (s)</text>
<text transform="translate(65.2 426.3) rotate(-90) scale(1 1.030)" font-size="25.8">Accretion Rate (M<tspan font-size="16.0" dy="6.2">sun</tspan><tspan dy="-6.2"> / s)</tspan></text>
</svg>
</body></html>
